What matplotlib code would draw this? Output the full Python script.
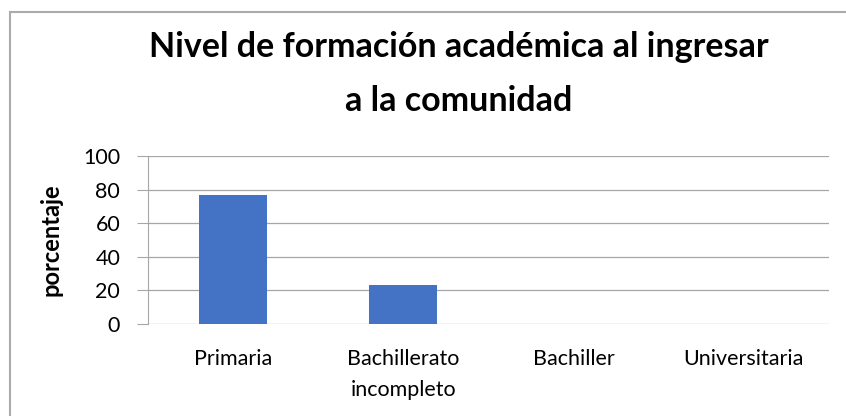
import matplotlib
matplotlib.use("Agg")
import matplotlib.pyplot as plt
from matplotlib.patches import Rectangle

categories = ["Primaria", "Bachillerato\nincompleto", "Bachiller", "Universitaria"]
values = [76.7, 23.3, 0, 0]
yticks = [0, 20, 40, 60, 80, 100]
title_lines = ["Nivel de formación académica al ingresar", "a la comunidad"]

plt.rcParams['font.family'] = ['Lato', 'DejaVu Sans']

fig = plt.figure(figsize=(8.46, 4.16), dpi=100)
ax = fig.add_axes([148/846, 1-324/416, (829-148)/846, (324-156)/416])

x = range(len(categories))
ax.bar(x, values, width=0.4, color="#4472C4", zorder=3)
ax.set_xlim(-0.5, len(categories)-0.5)
ax.set_ylim(0, 100)
ax.set_yticks(yticks)
ax.set_xticks(list(x))
ax.set_xticklabels(categories, fontsize=15.5, linespacing=1.7)
ax.tick_params(axis='y', labelsize=15.5, length=8, color="#A6A6A6", pad=12, direction='out')
ax.tick_params(axis='x', length=0, pad=18)
ax.grid(axis='y', color="#A6A6A6", linewidth=0.9, zorder=0)
for s in ["top", "right", "bottom"]:
    ax.spines[s].set_visible(False)
ax.spines["left"].set_color("#A6A6A6")
ax.set_ylabel("porcentaje", fontsize=17, fontweight="bold")
ax.yaxis.set_label_coords((62 - 148)/(829-148), 0.5)

fig.text(459/846, 1-57/416, title_lines[0], ha="center", va="baseline",
         fontsize=24.5, fontweight="bold")
fig.text(459/846, 1-111/416, title_lines[1], ha="center", va="baseline",
         fontsize=24.5, fontweight="bold")

fig.patches.append(Rectangle((10/846, -10/416), 850/846, (416-12+10)/416,
                             transform=fig.transFigure, fill=False,
                             edgecolor="#ABABAB", linewidth=1.5))

fig.savefig("out.png", dpi=100)
